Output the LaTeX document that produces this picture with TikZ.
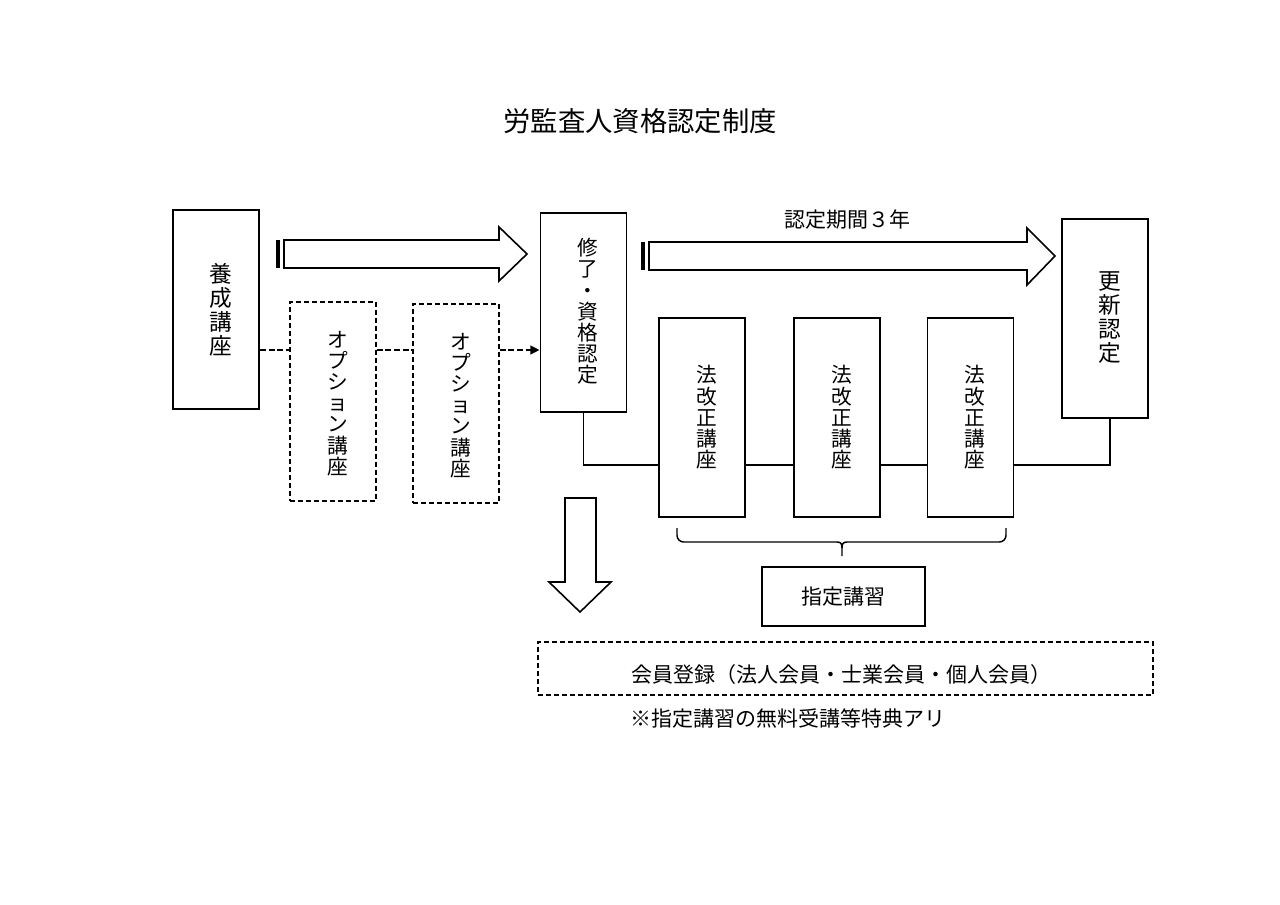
\documentclass[tikz,border=0pt]{standalone}
\usepackage{fontspec}
\setmainfont{Noto Sans CJK JP}
\usetikzlibrary{calc,arrows.meta}
\tikzset{
  box/.style={draw, line width=1.3pt, minimum width=64.5pt, minimum height=149.25pt,
    inner sep=0pt},
  vtext/.style={inner sep=0pt, align=center},
  bigv/.style={font=\fontsize{17}{18}\selectfont},
  smallv/.style={font=\fontsize{15.5}{15.9}\selectfont},
  dbox/.style={box, dash pattern=on 3.75pt off 2.25pt, line width=1.1pt},
  conn/.style={line width=1.1pt},
  dconn/.style={line width=2.1pt, dash pattern=on 4.5pt off 2pt},
  fatarrow/.style={draw, line width=1.2pt, fill=white, line join=miter},
  txt/.style={inner sep=0pt, font=\fontsize{15.75}{18}\selectfont},
}
\begin{document}
\begin{tikzpicture}[x=0.75pt,y=-0.75pt]
\useasboundingbox (0,0) rectangle (1280,905);

% title
\node[inner sep=0pt, font=\fontsize{20.5}{24}\selectfont] (title) at (640,121) {労監査人資格認定制度};

% main boxes
\node[box] (yosei) at (216,309.5) {};
\node[dbox] (opt1) at (333,401.5) {};
\node[dbox] (opt2) at (456,403.5) {};
\node[box] (shuryo) at (583.5,312.5) {};
\node[box] (koushin) at (1105,318.5) {};
\node[box] (hou1) at (702,417.5) {};
\node[box] (hou2) at (837,417.5) {};
\node[box] (hou3) at (970.5,417.5) {};

% box texts (set slightly right of centre, as in the original)
\node[vtext, bigv] (yoseit) at ($(yosei)+(4.5,0)$) {養\\成\\講\\座};
\node[vtext, smallv] (opt1t) at ($(opt1)+(4.5,2)$) {オ\\プ\\シ\\ョ\\ン\\講\\座};
\node[vtext, smallv] (opt2t) at ($(opt2)+(4.5,2)$) {オ\\プ\\シ\\ョ\\ン\\講\\座};
\node[vtext, smallv] (shuryot) at ($(shuryo)+(4.5,-1)$) {修\\了\\・\\資\\格\\認\\定};
\node[vtext, bigv] (koushint) at ($(koushin)+(4.5,-1)$) {更\\新\\認\\定};
\node[vtext, smallv] (hou1t) at ($(hou1)+(4.5,0)$) {法\\改\\正\\講\\座};
\node[vtext, smallv] (hou2t) at ($(hou2)+(4.5,0)$) {法\\改\\正\\講\\座};
\node[vtext, smallv] (hou3t) at ($(hou3)+(4.5,0)$) {法\\改\\正\\講\\座};

% striped arrow 1
\fill (276,240) rectangle (280.4,268);
\draw[fatarrow] (284,240) -- (499,240) -- (499,227) -- (527,254) -- (499,281) -- (499,268) -- (284,268) -- cycle;
% striped arrow 2
\fill (641,242) rectangle (645.4,270);
\draw[fatarrow] (649,242) -- (1027,242) -- (1027,228) -- (1055,256) -- (1027,285) -- (1027,270) -- (649,270) -- cycle;
\node[txt] (period) at (847,220) {認定期間３年};

% dashed connectors
\coordinate (dl) at (0,350);
\draw[dconn] (yosei.east |- dl) -- (opt1.west |- dl);
\draw[dconn] (opt1.east |- dl) -- (opt2.west |- dl);
\draw[dconn, -{Triangle[length=7pt,width=6.5pt]}] (opt2.east |- dl) -- (shuryo.west |- dl);

% solid connectors
\coordinate (jl) at (0,465);
\draw[conn] (shuryo.south) |- (hou1.west |- jl);
\draw[conn] (hou1.east |- jl) -- (hou2.west |- jl);
\draw[conn] (hou2.east |- jl) -- (hou3.west |- jl);
\draw[conn] (hou3.east |- jl) -| ($(koushin.south)+(5,0)$);

% brace
\draw[conn, rounded corners=5pt] (677,528) -- (677,542) -- (837,542);
\draw[conn, rounded corners=5pt] (1006,528) -- (1006,542) -- (847,542);
\draw[conn] (837,542) .. controls (841,542) and (842,544) .. (842,548) -- (842,556);
\draw[conn] (847,542) .. controls (843,542) and (842,544) .. (842,548);

% designated course
\node[draw, line width=1.3pt, minimum width=122.25pt, minimum height=44.25pt, txt] (shitei) at (843.5,596.5) {指定講習};

% down arrow
\draw[fatarrow] (565,498) -- (596,498) -- (596,582) -- (611,582) -- (580,612) -- (549,582) -- (565,582) -- cycle;

% membership box
\node[draw, line width=1.1pt, dash pattern=on 3.75pt off 2.25pt, minimum width=461.25pt, minimum height=39.75pt, inner sep=0pt] (member) at (845.5,668.5) {};
\node[txt] (membertxt) at (841,675) {会員登録（法人会員・士業会員・個人会員）};
\node[txt] (note) at (787.5,719) {※指定講習の無料受講等特典アリ};
\end{tikzpicture}
\end{document}
